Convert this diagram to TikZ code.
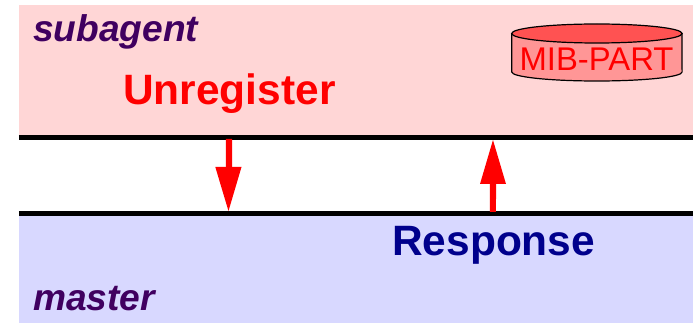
\documentclass[tikz,border=0pt]{standalone}
\usepackage{fontspec}
\setmainfont{Liberation Sans}
\definecolor{topbg}{RGB}{255,214,214}
\definecolor{botbg}{RGB}{216,216,255}
\definecolor{lab}{RGB}{64,0,96}
\definecolor{navy}{RGB}{0,0,140}
\definecolor{cyl}{RGB}{255,82,82}
\definecolor{cylbody}{RGB}{255,150,150}
\tikzset{
 rolelabel/.style={font=\bfseries\itshape\fontsize{37}{37}\selectfont,text=lab,anchor=base west,inner sep=0},
 msg/.style={font=\bfseries\fontsize{42.3}{42.3}\selectfont,anchor=base west,inner sep=0},
 bus/.style={line width=4.7pt,black},
 flow/.style={line width=6pt,red},
 cyledge/.style={black,line width=1.2pt}
}
\begin{document}
\begin{tikzpicture}[x=1pt,y=-1pt,xscale=.99626,yscale=.99626]
\useasboundingbox (0,0) rectangle (693,324);
\fill[topbg] (19,5) rectangle (693,136);
\fill[botbg] (19,213) rectangle (693,323);
\coordinate (t1) at (19,137.5); \coordinate (t2) at (693,137.5);
\coordinate (b1) at (19,213.3); \coordinate (b2) at (693,213.3);
\draw[bus] (t1) -- (t2);
\draw[bus] (b1) -- (b2);
\node[rolelabel] (sub) at (33,42) {subagent};
\node[rolelabel] (mas) at (33,310) {master};
\node[msg,text=red] (unreg) at (123,105) {Unregister};
\node[msg,text=navy] (resp) at (392,255) {Response};
% cylinder
\draw[cyledge,fill=cylbody] (511.7,33.5) -- (511.7,72) arc[start angle=180,end angle=0,x radius=85.2,y radius=9] -- (682,33.5) -- cycle;
\draw[cyledge,fill=cyl] (596.9,33.5) ellipse[x radius=85.2,y radius=9.5];
\node[font=\fontsize{32.7}{32.7}\selectfont,text=red,anchor=base,inner sep=0] (mib) at (596.5,70.5) {MIB-PART};
% arrows
\coordinate (a1s) at (229,139); \coordinate (a1e) at (228.5,211);
\coordinate (a2s) at (493,212); \coordinate (a2e) at (493,140);
\draw[flow] (a1s) -- (229,170);
\fill[red] (a1e) -- (215.3,167) -- (241.5,167) -- cycle;
\draw[flow] (a2s) -- (493,180);
\fill[red] (a2e) -- (480,184) -- (506,184) -- cycle;
\end{tikzpicture}
\end{document}
